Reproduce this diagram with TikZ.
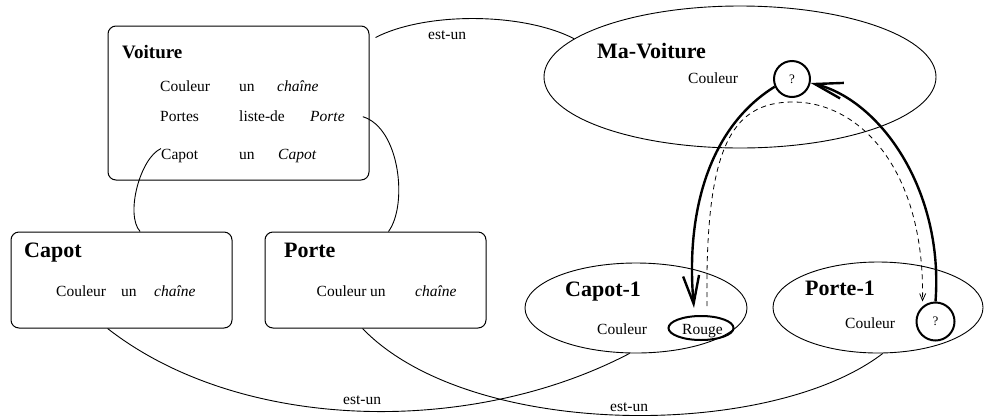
\documentclass[tikz,border=0pt]{standalone}
\usepackage{fontspec}
\setmainfont{Liberation Serif}
\usetikzlibrary{arrows.meta,calc,shapes.geometric}

\begin{document}
\begin{tikzpicture}[x=1pt,y=-1pt,
  box/.style={draw, rounded corners=8pt, line width=1pt, inner sep=0pt},
  oval/.style={draw, ellipse, line width=0.9pt, inner sep=0pt},
  hole/.style={draw, circle, line width=2pt, inner sep=0pt, minimum size=36pt, font=\fontsize{13}{15}\selectfont},
  txt/.style={anchor=base west, inner sep=0pt, font=\fontsize{15.5}{18}\selectfont},
  ttl/.style={anchor=base west, inner sep=0pt, font=\fontsize{22}{26}\selectfont\bfseries},
  link/.style={line width=0.9pt},
  flow/.style={line width=2.4pt, -{Straight Barb[length=28pt,width=16pt]}},
  trace/.style={line width=0.8pt, dash pattern=on 5pt off 4pt, -{Straight Barb[length=7pt,width=6pt]}}
]
\useasboundingbox (0,0) rectangle (985,416);

% frames
\node[box, minimum width=261pt, minimum height=154pt] (voiture) at (238.5,103) {};
\node[box, minimum width=221pt, minimum height=96pt] (capotbox) at (121.5,280) {};
\node[box, minimum width=221pt, minimum height=96pt] (portebox) at (375.5,280) {};
\node[oval, minimum width=392pt, minimum height=142pt] (mavoiture) at (740,77) {};
\node[oval, minimum width=222pt, minimum height=90pt] (capot1) at (636,308) {};
\node[oval, minimum width=210pt, minimum height=91pt] (porte1) at (878,307.5) {};
\node[draw, ellipse, line width=2pt, minimum width=65pt, minimum height=24pt, inner sep=0pt] (rouge) at (701,328) {};
\node[hole] (q1) at (792,79) {?};
\node[hole, minimum size=38pt] (q2) at (935.5,321.5) {?};

% Voiture
\node[ttl, font=\fontsize{19}{22}\selectfont\bfseries] (tvoiture) at (122,58) {Voiture};
\node[txt] (v1a) at (160,91) {Couleur};
\node[txt] (v1b) at (239,91) {un};
\node[txt] (v1c) at (277,91) {\itshape chaîne};
\node[txt] (v2a) at (160,121.7) {Portes};
\node[txt] (v2b) at (239,121.7) {liste-de};
\node[txt] (vporte) at (310,121.7) {\itshape Porte};
\node[txt] (vcapot) at (161,159) {Capot};
\node[txt] (v3b) at (239,159) {un};
\node[txt] (v3c) at (278,159) {\itshape Capot};

% Capot
\node[ttl] (tcapot) at (24,257) {Capot};
\node[txt] (c1a) at (56,296) {Couleur};
\node[txt] (c1b) at (121,296) {un};
\node[txt] (c1c) at (154,296) {\itshape chaîne};

% Porte
\node[ttl] (tporte) at (284,257) {Porte};
\node[txt] (p1a) at (316.5,296) {Couleur};
\node[txt] (p1b) at (370,296) {un};
\node[txt] (p1c) at (415,296) {\itshape chaîne};

% instances
\node[ttl] (tmav) at (597,58) {Ma-Voiture};
\node[txt] (mavc) at (688,83) {Couleur};
\node[ttl] (tcap1) at (565,296) {Capot-1};
\node[txt] (cap1c) at (597,334) {Couleur};
\node[txt] (rougetxt) at (682,334) {Rouge};
\node[ttl] (tpor1) at (805,295) {Porte-1};
\node[txt] (por1c) at (845,328) {Couleur};

% labels
\node[txt] (e1) at (428,39) {est-un};
\node[txt] (e2) at (343,404) {est-un};
\node[txt] (e3) at (610,411) {est-un};

% links
\draw[link] ($(voiture.north east)+(6,12)$) .. controls (425,12) and (522,12) .. (mavoiture.167);
\draw[link] (vcapot.north west) .. controls (140,158) and (125,215) .. (capotbox.69);
\draw[link] ($(vporte.east)+(18,0)$) .. controls (400,128) and (408,205) .. (portebox.75);
\draw[link] (capotbox.254) .. controls (240,432) and (470,437) .. (capot1.262);
\draw[link] (portebox.255) .. controls (470,440) and (770,440) .. (porte1.276);

% value flow
\draw[flow] (q1.204) .. controls (705,130) and (686,220) .. ($(rouge.north)+(-7,-7)$);
\draw[flow] (q2.north) .. controls (944,190) and (880,100) .. (q1.-12);
\draw[trace] ($(rouge.north)+(6,-9)$) .. controls (705,150) and (730,102) .. (793,102)
   .. controls (860,102) and (925,170) .. ($(q2.north)+(-13,0)$);
\end{tikzpicture}
\end{document}
